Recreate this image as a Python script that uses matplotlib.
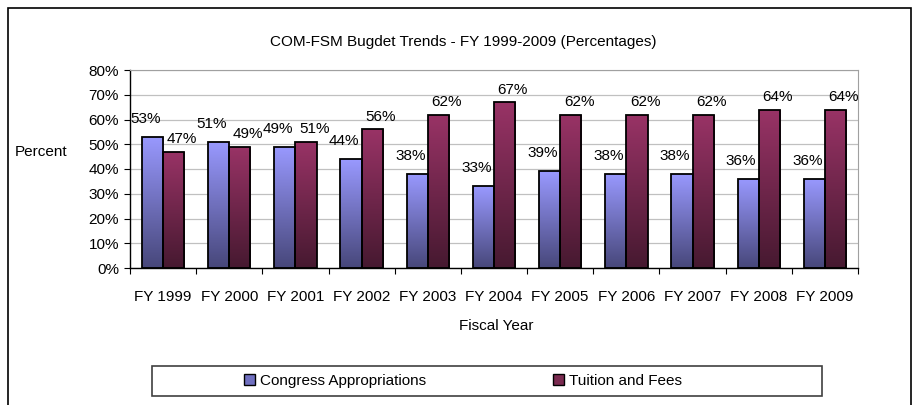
import matplotlib.pyplot as plt
import numpy as np
from matplotlib.colors import LinearSegmentedColormap
from matplotlib.patches import Patch, Rectangle

plt.rcParams['font.family'] = ['Liberation Sans', 'DejaVu Sans']

years = ['FY 1999', 'FY 2000', 'FY 2001', 'FY 2002', 'FY 2003', 'FY 2004',
         'FY 2005', 'FY 2006', 'FY 2007', 'FY 2008', 'FY 2009']
congress = [53, 51, 49, 44, 38, 33, 39, 38, 38, 36, 36]
tuition = [47, 49, 51, 56, 62, 67, 62, 62, 62, 64, 64]

blue_cmap = LinearSegmentedColormap.from_list('b', ['#47477a', '#9999ff'])
red_cmap = LinearSegmentedColormap.from_list('r', ['#461930', '#993366'])

fs = 11

fig = plt.figure(figsize=(9.14, 4.05), dpi=100)
# outer chart border
fig.patches.append(Rectangle((8 / 914, -0.05), 903 / 914, 1.05 - 8 / 405,
                             transform=fig.transFigure, fill=False,
                             edgecolor='black', linewidth=1.2))

ax = fig.add_axes([130 / 914, 137 / 405, 728 / 914, 198 / 405])
x = np.arange(len(years))
w = 0.32

grad = np.linspace(0, 1, 256).reshape(-1, 1)


def gradient_bars(vals, offset, cmap):
    bars = ax.bar(x + offset, vals, w, color='none', edgecolor='black',
                  linewidth=1.3, zorder=3)
    for b in bars:
        x0, h = b.get_x(), b.get_height()
        im = ax.imshow(grad, extent=[x0, x0 + w, 0, h], origin='lower',
                       aspect='auto', cmap=cmap, zorder=2)
        im.set_clip_path(b)
    return bars


b1 = gradient_bars(congress, -w / 2, blue_cmap)
b2 = gradient_bars(tuition, w / 2, red_cmap)

for b, v in zip(b1, congress):
    ax.annotate(f'{v}%', (b.get_x() + w / 2, v), xytext=(-5, 8),
                textcoords='offset points', ha='center', va='bottom',
                fontsize=fs, zorder=4)
for b, v in zip(b2, tuition):
    ax.annotate(f'{v}%', (b.get_x() + w / 2, v), xytext=(6, 4),
                textcoords='offset points', ha='center', va='bottom',
                fontsize=fs, zorder=4)

ax.set_xlim(-0.5, len(years) - 0.5)
ax.set_ylim(0, 80)
ax.set_yticks(range(0, 81, 10))
ax.set_yticklabels([f'{t}%' for t in range(0, 81, 10)], fontsize=fs)
ax.set_xticks(x)
ax.set_xticklabels(years, fontsize=fs)
ax.set_xticks(np.arange(-0.5, len(years), 1), minor=True)
ax.tick_params(axis='x', which='major', length=0, pad=16)
ax.tick_params(axis='x', which='minor', length=4, width=0.8, color='black')
ax.tick_params(axis='y', length=4, width=0.8, pad=4)
ax.grid(axis='y', color='#c0c0c0', linewidth=0.9, zorder=0)
ax.set_axisbelow(True)
for s in ['top', 'right']:
    ax.spines[s].set_color('#a0a0a0')
for s in ['left', 'bottom']:
    ax.spines[s].set_color('black')
    ax.spines[s].set_linewidth(1)

fig.text(463 / 914, 1 - 42 / 405, 'COM-FSM Bugdet Trends - FY 1999-2009 (Percentages)',
         ha='center', va='center', fontsize=fs)
fig.text(41 / 914, 1 - 152 / 405, 'Percent', ha='center', va='center', fontsize=fs)
fig.text(496 / 914, 1 - 326 / 405, 'Fiscal Year', ha='center', va='center', fontsize=fs)

# legend box
fig.patches.append(Rectangle((152 / 914, 9 / 405), 670 / 914, 30 / 405,
                             transform=fig.transFigure, fill=False,
                             edgecolor='#404040', linewidth=1.2))
handles = [Patch(facecolor='#7070c0', edgecolor='black', label='Congress Appropriations'),
           Patch(facecolor='#7a2a50', edgecolor='black', label='Tuition and Fees')]
fig.legend(handles=handles, loc='center', bbox_to_anchor=(463 / 914, 24 / 405),
           ncol=2, frameon=False, fontsize=fs, handlelength=0.7, handleheight=0.7,
           handletextpad=0.35, columnspacing=8.3)

fig.savefig('out.png', dpi=100)
